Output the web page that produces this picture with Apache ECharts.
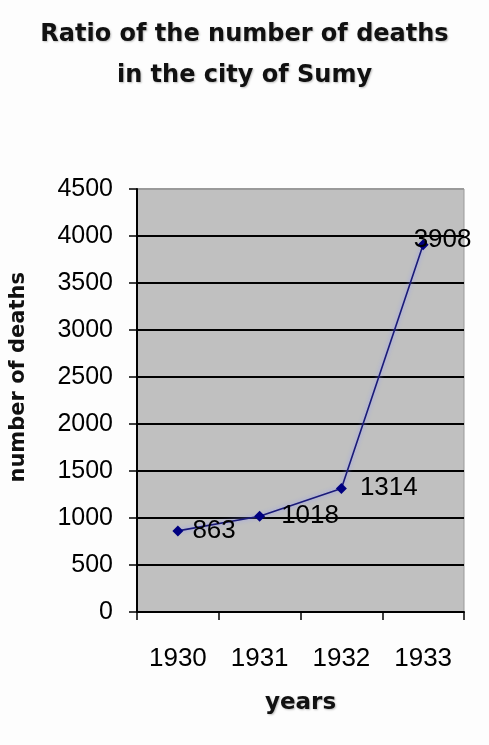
<!DOCTYPE html>
<html>
<head>
<meta charset="utf-8">
<script src="https://cdn.jsdelivr.net/npm/echarts@6/dist/echarts.min.js"></script>
<style>
html,body{margin:0;padding:0;background:#fdfdfd;}
#chart{width:489px;height:745px;}
</style>
</head>
<body>
<div id="chart"></div>
<script>
var titleText = 'Ratio of the number of deaths\nin the city of Sumy';
var categories = ['1930', '1931', '1932', '1933'];
var deaths = [863, 1018, 1314, 3908];
var yTicks = [0, 500, 1000, 1500, 2000, 2500, 3000, 3500, 4000, 4500];
var xName = 'years';
var yName = 'number of deaths';

var labelPos = [[20, 5], [27, 5], [24, 5], [-4, 1]];

var chart = echarts.init(document.getElementById('chart'), null, {renderer: 'canvas'});
var splitColors = yTicks.map(function (v, i) { return i === yTicks.length - 1 ? '#9a9a9a' : '#000'; });
chart.setOption({
  backgroundColor: '#fdfdfd',
  animation: false,
  title: {
    text: titleText,
    left: 'center',
    top: 9,
    textStyle: {
      fontFamily: 'DejaVu Sans',
      fontWeight: 'bold',
      fontSize: 24,
      lineHeight: 41,
      color: '#111',
      textShadowColor: 'rgba(0,0,0,0.25)',
      textShadowBlur: 2,
      textShadowOffsetX: 1,
      textShadowOffsetY: 1
    }
  },
  grid: {
    left: 137,
    right: 25,
    top: 189,
    bottom: 133,
    show: true,
    backgroundColor: '#c0c0c0',
    borderColor: '#9a9a9a',
    borderWidth: 1
  },
  xAxis: {
    type: 'category',
    data: categories,
    boundaryGap: true,
    name: xName,
    nameLocation: 'middle',
    nameGap: 80,
    nameTextStyle: {fontFamily: 'DejaVu Sans', fontWeight: 'bold', fontSize: 23, color: '#111',
      textShadowColor: 'rgba(0,0,0,0.25)', textShadowBlur: 2, textShadowOffsetX: 1, textShadowOffsetY: 1},
    axisLine: {lineStyle: {color: '#000', width: 2}},
    axisTick: {show: true, inside: false, length: 8, alignWithLabel: false, lineStyle: {color: '#000', width: 1.5}},
    axisLabel: {margin: 34, fontFamily: 'Liberation Sans', fontSize: 26, color: '#000'}
  },
  yAxis: {
    type: 'value',
    min: 0,
    max: 4500,
    interval: 500,
    axisLine: {show: true, lineStyle: {color: '#000', width: 2}},
    axisTick: {show: true, inside: false, length: 8, lineStyle: {color: '#000', width: 1.5}},
    axisLabel: {margin: 24, fontFamily: 'Liberation Sans', fontSize: 25, color: '#000',
      formatter: function (v) { return String(v); }},
    splitLine: {show: true, lineStyle: {color: splitColors, width: 2}}
  },
  graphic: [{
    type: 'text',
    left: 8,
    top: 272,
    rotation: Math.PI / 2,
    style: {
      text: yName,
      fontFamily: 'DejaVu Sans',
      fontWeight: 'bold',
      fontSize: 21,
      fill: '#111'
    }
  }],
  series: [{
    type: 'line',
    data: deaths.map(function (v, i) {
      return {value: v, label: {position: labelPos[i]}};
    }),
    smooth: false,
    symbol: 'diamond',
    symbolSize: 11,
    itemStyle: {color: '#000080'},
    lineStyle: {color: '#1a1a78', width: 1.6, shadowColor: 'rgba(140,150,255,0.9)', shadowBlur: 4},
    label: {
      show: true,
      align: 'left',
      verticalAlign: 'middle',
      fontFamily: 'Liberation Sans',
      fontSize: 26,
      color: '#000'
    },
    z: 5
  }]
});
</script>
</body>
</html>
